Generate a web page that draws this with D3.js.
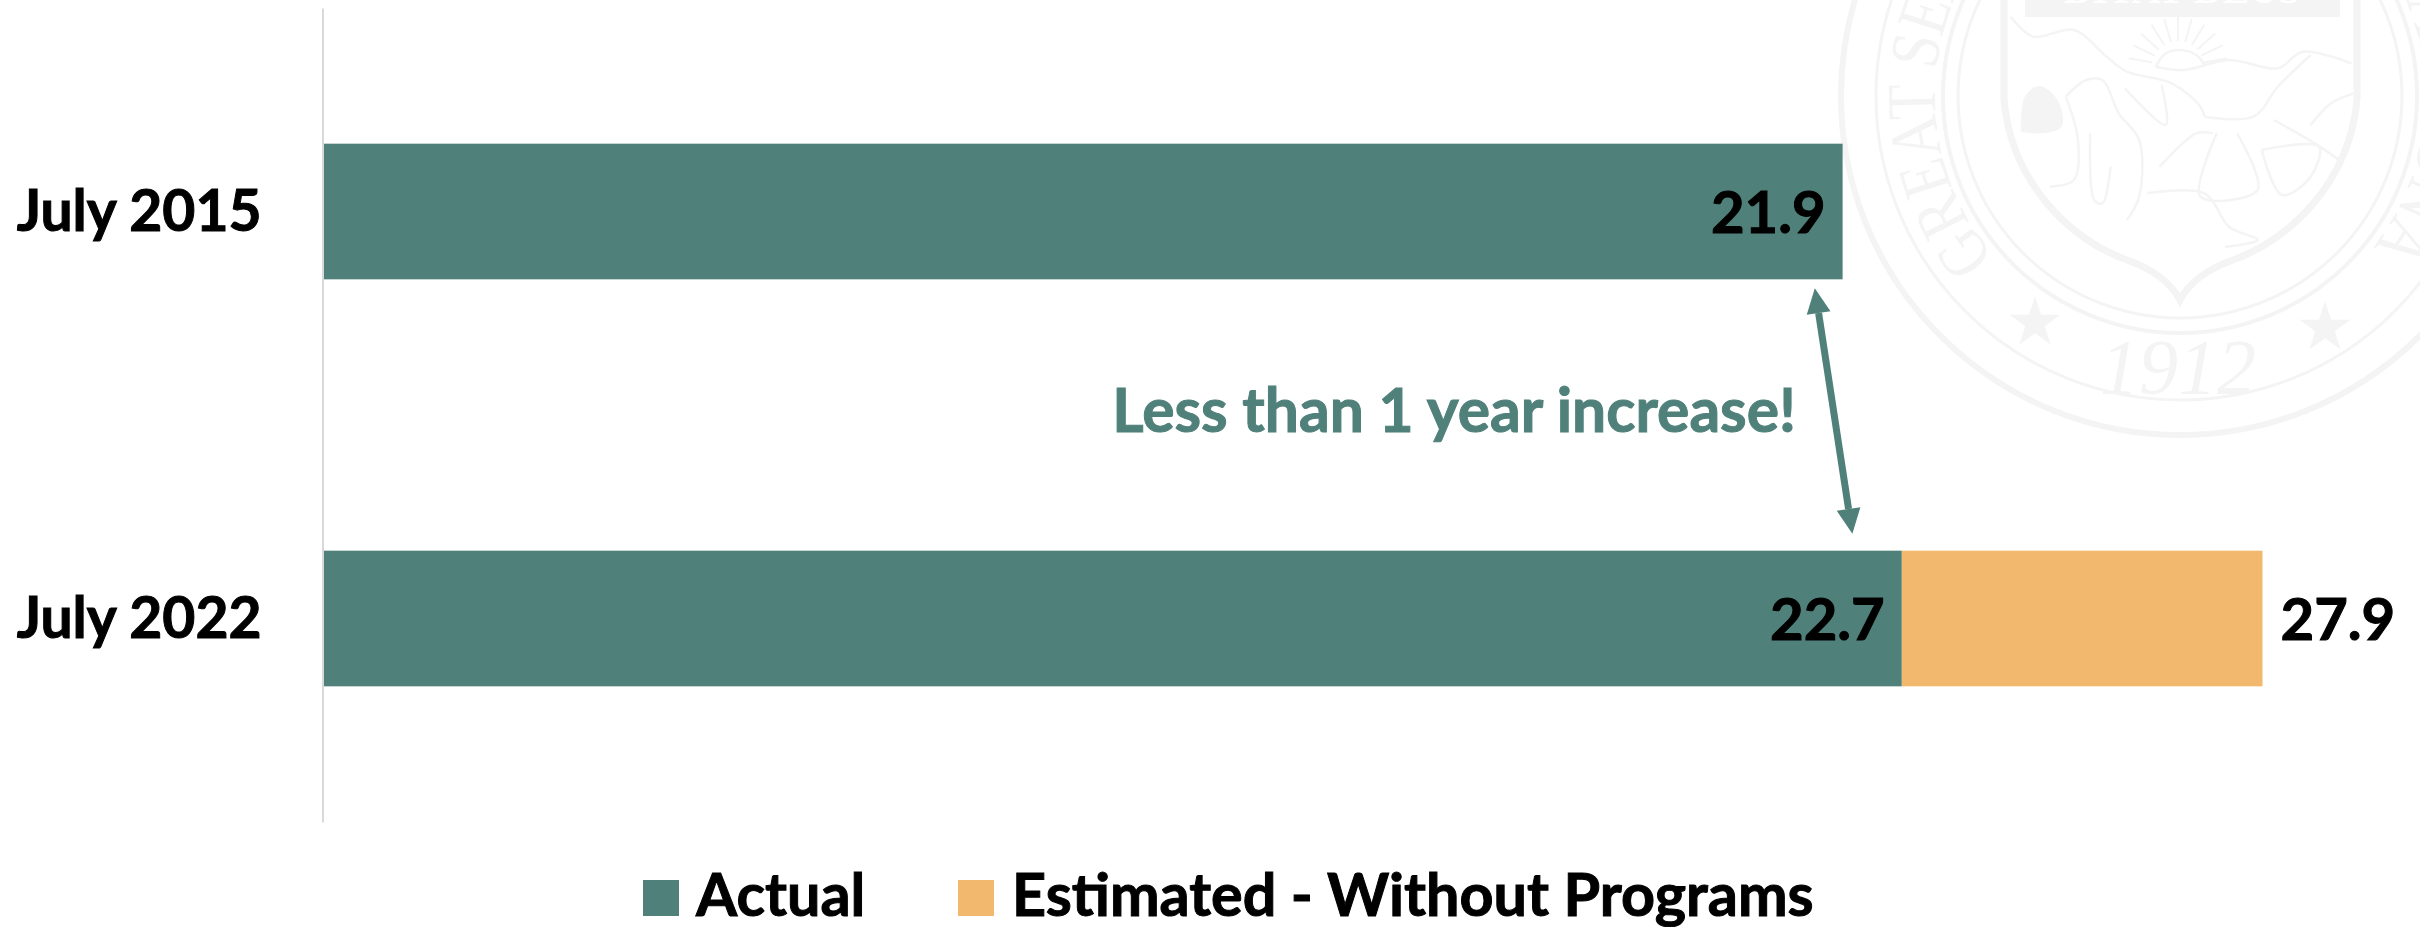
<!DOCTYPE html>
<html>
<head>
<meta charset="utf-8">
<script src="https://cdn.jsdelivr.net/npm/d3@7"></script>
<style>
  html, body { margin: 0; padding: 0; background: #fff; overflow: hidden; }
  svg { display: block; }
  text { font-family: Lato, "Open Sans", sans-serif; font-weight: 700; }
  .heavy { stroke-width: 1px; paint-order: stroke; }
</style>
</head>
<body>
<div id="chart"></div>
<script>
const categories = ['July 2015', 'July 2022'];
const actual = [21.86, 22.71];
const estimated = [null, 27.9];
const seriesNames = ['Actual', 'Estimated - Without Programs'];
const annotation = 'Less than 1 year increase!';
const arrowValues = [21.46, 22.0];

const width = 2420;
const height = 927;
const teal = '#50807a';
const orange = '#f2b96e';
const sealColor = '#f4f4f4';
const fontSize = 58;

const svg = d3.select('#chart').append('svg')
    .attr('width', width)
    .attr('height', height)
    .attr('viewBox', `0 0 ${width} ${height}`);

const x = d3.scaleLinear().domain([0, 27.9]).range([323, 2262.5]);
const y = d3.scaleBand().domain(categories).range([8, 822])
    .paddingInner(2 / 3).paddingOuter(1 / 3);

drawSeal();
drawBars();
drawAxis();
drawAnnotation();
drawLegend();

function drawBars() {
  svg.selectAll('.bar-est')
      .data(categories.filter((c, i) => estimated[i] !== null))
      .enter()
      .append('rect')
      .attr('class', 'bar-est')
      .attr('x', d => x(actual[categories.indexOf(d)]))
      .attr('y', d => y(d))
      .attr('width', d => {
        const i = categories.indexOf(d);
        return x(estimated[i]) - x(actual[i]);
      })
      .attr('height', y.bandwidth())
      .attr('fill', orange);

  svg.selectAll('.bar-actual')
      .data(categories)
      .enter()
      .append('rect')
      .attr('class', 'bar-actual')
      .attr('x', x(0))
      .attr('y', d => y(d))
      .attr('width', (d, i) => x(actual[i]) - x(0))
      .attr('height', y.bandwidth())
      .attr('fill', teal);

  // value labels
  const baseline = d => y(d) + y.bandwidth() / 2 + 21;
  svg.selectAll('.label-actual')
      .data(categories)
      .enter()
      .append('text')
      .attr('class', 'label-actual heavy')
      .attr('x', (d, i) => x(actual[i]) - 17)
      .attr('y', baseline)
      .attr('text-anchor', 'end')
      .attr('font-size', fontSize)
      .attr('fill', '#000')
      .attr('stroke', '#000')
      .text((d, i) => actual[i].toFixed(1));

  svg.selectAll('.label-est')
      .data(categories.filter((c, i) => estimated[i] !== null))
      .enter()
      .append('text')
      .attr('class', 'label-est heavy')
      .attr('x', d => x(estimated[categories.indexOf(d)]) + 18)
      .attr('y', baseline)
      .attr('font-size', fontSize)
      .attr('fill', '#000')
      .attr('stroke', '#000')
      .text(d => estimated[categories.indexOf(d)].toFixed(1));
}

function drawAxis() {
  const axis = svg.append('g')
      .attr('transform', `translate(${x(0) - 0.5},0)`)
      .call(d3.axisLeft(y).tickSize(0).tickPadding(61));
  axis.select('.domain').attr('stroke', '#d9d9d9').attr('stroke-width', 2);
  axis.selectAll('text')
      .attr('class', 'heavy')
      .attr('font-size', 57)
      .attr('fill', '#000')
      .attr('stroke', '#000')
      .attr('dy', null)
      .attr('y', 19)
      .style('font-family', 'Lato')
      .style('font-weight', 700);
}

function drawAnnotation() {
  const headLen = 25;
  const headW = 24;
  const x1 = x(arrowValues[0]);
  const y1 = y(categories[0]) + y.bandwidth() + 9;
  const x2 = x(arrowValues[1]);
  const y2 = y(categories[1]) - 17;
  const len = Math.hypot(x2 - x1, y2 - y1);
  const ux = (x2 - x1) / len;
  const uy = (y2 - y1) / len;

  svg.append('line')
      .attr('x1', x1 + ux * headLen)
      .attr('y1', y1 + uy * headLen)
      .attr('x2', x2 - ux * headLen)
      .attr('y2', y2 - uy * headLen)
      .attr('stroke', teal)
      .attr('stroke-width', 7);

  const head = (tx, ty, dir) => {
    const bx = tx - dir * ux * headLen;
    const by = ty - dir * uy * headLen;
    return [[tx, ty], [bx - uy * headW / 2, by + ux * headW / 2], [bx + uy * headW / 2, by - ux * headW / 2]];
  };
  svg.selectAll('.arrow-head')
      .data([head(x1, y1, -1), head(x2, y2, 1)])
      .enter()
      .append('polygon')
      .attr('class', 'arrow-head')
      .attr('points', d => d.join(' '))
      .attr('fill', teal);

  svg.append('text')
      .attr('class', 'heavy')
      .attr('x', 1796)
      .attr('y', 432)
      .attr('text-anchor', 'end')
      .attr('font-size', 60.5)
      .attr('fill', teal)
      .attr('stroke', teal)
      .text(annotation);
}

function drawLegend() {
  const swatchX = [643, 958];
  const textX = [696, 1012];
  const colors = [teal, orange];
  const items = svg.selectAll('.legend-item')
      .data(seriesNames)
      .enter()
      .append('g')
      .attr('class', 'legend-item');
  items.append('rect')
      .attr('x', (d, i) => swatchX[i])
      .attr('y', 880)
      .attr('width', 36)
      .attr('height', 36)
      .attr('fill', (d, i) => colors[i]);
  items.append('text')
      .attr('class', 'heavy')
      .attr('x', (d, i) => textX[i])
      .attr('y', 916)
      .attr('font-size', 59.3)
      .attr('fill', '#000')
      .attr('stroke', '#000')
      .text(d => d);
}

// faint state seal behind the plot
function drawSeal() {
  const cx = 2180;
  const cy = 96;
  const g = svg.append('g').attr('fill', 'none').attr('stroke', sealColor);
  const zoomPts = pts => pts.map(p => [1780 + p[0] / 2.45, p[1] / 3]);
  const line = d3.line().curve(d3.curveCatmullRom);

  g.selectAll('circle')
      .data([[339, 6], [304, 3], [237, 4], [222, 3]])
      .enter()
      .append('circle')
      .attr('cx', cx)
      .attr('cy', cy)
      .attr('r', d => d[0])
      .attr('stroke-width', d => d[1]);

  const shield = 'M2004,-10 L2004,100 C2012,185 2072,240 2127,260 C2155,270 2172,285 2180,300 ' +
      'C2188,285 2205,270 2233,260 C2288,240 2349,185 2357,100 L2357,-10';
  g.append('path').attr('d', shield).attr('stroke-width', 7);

  // scenery
  const scenery = [
    [[565, 50], [620, 110], [720, 90], [800, 170], [850, 215], [960, 250], [1030, 320], [1040, 350]],
    [[1040, 350], [1160, 350], [1220, 260], [1300, 165]],
    [[920, 200], [990, 210], [1100, 180], [1220, 205], [1280, 155], [1400, 190]],
    [[920, 200], [945, 160], [980, 150], [1020, 165], [1040, 195]],
    [[1070, 400], [1030, 590], [1170, 570], [1120, 400]],
    [[930, 500], [1020, 400], [1060, 400]],
    [[900, 580], [1040, 580], [1100, 680], [1170, 720], [1090, 740]],
    [[1180, 450], [1230, 585], [1300, 530], [1320, 440], [1180, 450]],
    [[1210, 360], [1310, 430], [1370, 480]],
    [[700, 290], [750, 240], [790, 240], [830, 340], [880, 420], [880, 590], [850, 660]],
    [[700, 290], [730, 420], [720, 540], [660, 560]],
    [[760, 400], [770, 600], [790, 610], [810, 500]],
    [[845, 265], [945, 375], [935, 255]],
    [[1300, 375], [1350, 310], [1405, 280]]
  ];
  g.selectAll('.scene')
      .data(scenery)
      .enter()
      .append('path')
      .attr('class', 'scene')
      .attr('d', d => line(zoomPts(d)))
      .attr('stroke-width', 2.5);

  // sun rays
  const rays = d3.range(-80, 81, 16);
  g.selectAll('.ray')
      .data(rays)
      .enter()
      .append('line')
      .attr('class', 'ray')
      .attr('x1', d => 2178 + 26 * Math.sin(d * Math.PI / 180))
      .attr('y1', d => 67 - 26 * Math.cos(d * Math.PI / 180))
      .attr('x2', d => 2178 + 50 * Math.sin(d * Math.PI / 180))
      .attr('y2', d => 67 - 50 * Math.cos(d * Math.PI / 180))
      .attr('stroke-width', 2);

  // rock
  svg.append('path')
      .attr('d', line(zoomPts([[590, 395], [600, 290], [635, 258], [680, 300], [690, 380], [640, 400], [590, 395]])))
      .attr('fill', sealColor);

  // banner
  svg.append('rect')
      .attr('x', 2025).attr('y', 0).attr('width', 315).attr('height', 17)
      .attr('fill', sealColor);
  svg.append('text')
      .attr('x', 2182).attr('y', 3)
      .attr('text-anchor', 'middle')
      .attr('font-size', 40)
      .attr('fill', '#fff')
      .style('font-family', 'Liberation Serif')
      .text('DITAT DEUS');

  // ring text, clockwise from lower left round to lower right
  const r = 245;
  const a0 = 229 * Math.PI / 180;
  const a1 = 128 * Math.PI / 180;
  const sx = cx + r * Math.sin(a0);
  const sy = cy - r * Math.cos(a0);
  const ex = cx + r * Math.sin(a1);
  const ey = cy - r * Math.cos(a1);
  svg.append('defs').append('path')
      .attr('id', 'seal-ring')
      .attr('d', `M${sx},${sy} A${r},${r} 0 1 1 ${ex},${ey}`);
  svg.append('text')
      .attr('font-size', 70)
      .attr('fill', sealColor)
      .style('font-family', 'Liberation Serif')
      .style('font-weight', 400)
      .append('textPath')
      .attr('href', '#seal-ring')
      .attr('textLength', r * (a1 + 2 * Math.PI - a0))
      .attr('lengthAdjust', 'spacingAndGlyphs')
      .text('GREAT SEAL OF THE STATE OF ARIZONA');

  svg.append('text')
      .attr('x', cx - 2)
      .attr('y', 393)
      .attr('text-anchor', 'middle')
      .attr('font-size', 78)
      .attr('font-style', 'italic')
      .attr('fill', sealColor)
      .style('font-family', 'Liberation Serif')
      .style('font-weight', 400)
      .text('1912');

  const star = d3.symbol().type(d3.symbolStar).size(800);
  svg.selectAll('.star')
      .data([[2035, 323], [2325, 328]])
      .enter()
      .append('path')
      .attr('class', 'star')
      .attr('d', star)
      .attr('transform', d => `translate(${d[0]},${d[1]})`)
      .attr('fill', sealColor);
}
</script>
</body>
</html>
